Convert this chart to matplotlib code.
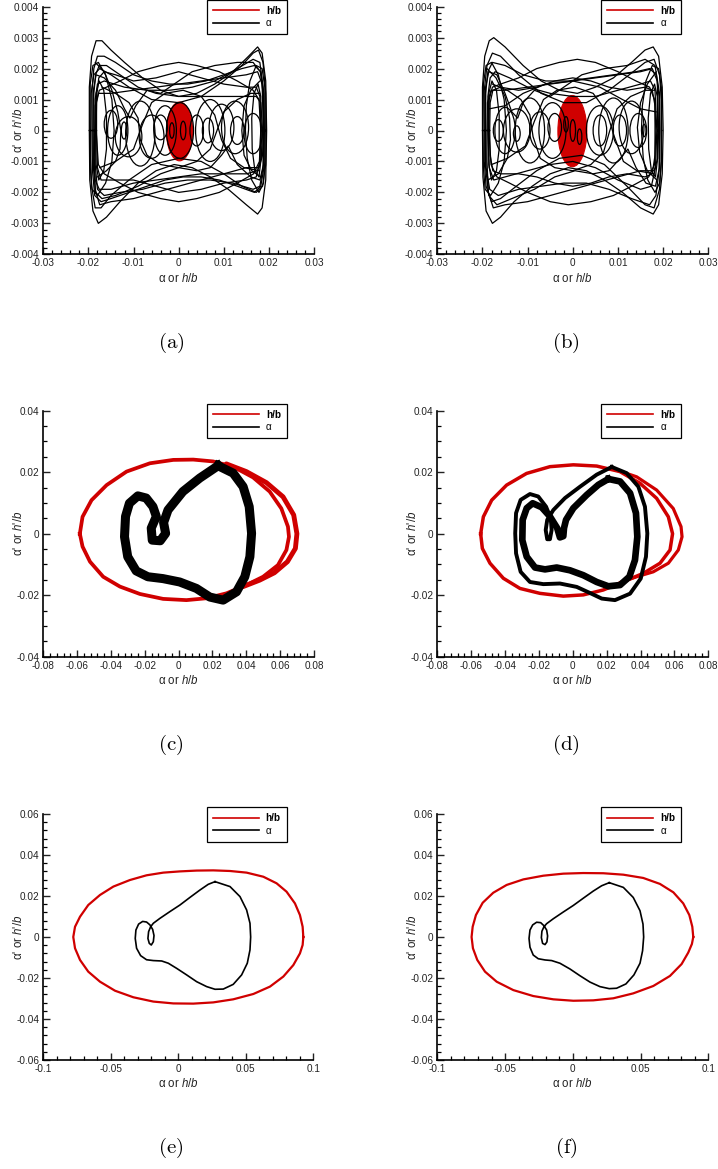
import matplotlib
matplotlib.use("Agg")
import matplotlib.pyplot as plt
from matplotlib.patches import Ellipse
from matplotlib.lines import Line2D
from matplotlib.ticker import MultipleLocator, FixedLocator, FixedFormatter

plt.rcParams['font.family'] = ['Liberation Sans', 'DejaVu Sans']
plt.rcParams['mathtext.fontset'] = 'custom'
plt.rcParams['mathtext.it'] = 'Liberation Sans:italic'
plt.rcParams['mathtext.rm'] = 'Liberation Sans'

RED = '#d00000'

# ---------------- tick values / labels ----------------
A_XTICKS = [-0.03, -0.02, -0.01, 0.0, 0.01, 0.02, 0.03]
A_XLABELS = ['-0.03', '-0.02', '-0.01', '0', '0.01', '0.02', '0.03']
A_YTICKS = [-0.004, -0.003, -0.002, -0.001, 0.0, 0.001, 0.002, 0.003, 0.004]
A_YLABELS = ['-0.004', '-0.003', '-0.002', '-0.001', '0', '0.001', '0.002', '0.003', '0.004']
C_XTICKS = [-0.08, -0.06, -0.04, -0.02, 0.0, 0.02, 0.04, 0.06, 0.08]
C_XLABELS = ['-0.08', '-0.06', '-0.04', '-0.02', '0', '0.02', '0.04', '0.06', '0.08']
C_YTICKS = [-0.04, -0.02, 0.0, 0.02, 0.04]
C_YLABELS = ['-0.04', '-0.02', '0', '0.02', '0.04']
E_XTICKS = [-0.1, -0.05, 0.0, 0.05, 0.1]
E_XLABELS = ['-0.1', '-0.05', '0', '0.05', '0.1']
E_YTICKS = [-0.06, -0.04, -0.02, 0.0, 0.02, 0.04, 0.06]
E_YLABELS = ['-0.06', '-0.04', '-0.02', '0', '0.02', '0.04', '0.06']
LEGEND_LABELS = ['h/b', 'α']
CAPTIONS = ['(a)', '(b)', '(c)', '(d)', '(e)', '(f)']

# ---------------- panel (a) ----------------
A_RED_ELLIPSE = (0.0002, -0.00003, 0.0058, 0.0019)   # centre x, centre y, width, height
A_BLACK_CYCLES = [
    [(-0.0198, 0.0000), (-0.0198, 0.0014), (-0.0193, 0.0024), (-0.0183, 0.0029), (-0.0170, 0.0029),
     (-0.0150, 0.0026), (-0.0120, 0.0022), (-0.0080, 0.0017), (-0.0040, 0.0013), (0.0000, 0.0011),
     (0.0040, 0.0012), (0.0080, 0.0015), (0.0120, 0.0019), (0.0155, 0.0024), (0.0175, 0.0027),
     (0.0185, 0.0025), (0.0193, 0.0016), (0.0195, 0.0000), (0.0193, -0.0016), (0.0185, -0.0025),
     (0.0175, -0.0027), (0.0150, -0.0024), (0.0110, -0.0019), (0.0070, -0.0015), (0.0030, -0.0012),
     (-0.0010, -0.0011), (-0.0050, -0.0013), (-0.0090, -0.0017), (-0.0130, -0.0023), (-0.0160, -0.0028),
     (-0.0178, -0.0030), (-0.0190, -0.0026), (-0.0197, -0.0016)],
    [(-0.0192, 0.0000), (-0.0192, 0.0013), (-0.0188, 0.0020), (-0.0180, 0.0024), (-0.0165, 0.0024),
     (-0.0140, 0.0022), (-0.0100, 0.0018), (-0.0060, 0.0016), (-0.0020, 0.0015), (0.0020, 0.0015),
     (0.0060, 0.0016), (0.0100, 0.0018), (0.0140, 0.0020), (0.0168, 0.0021), (0.0182, 0.0019),
     (0.0189, 0.0012), (0.0190, 0.0000), (0.0189, -0.0012), (0.0182, -0.0018), (0.0168, -0.0020),
     (0.0130, -0.0018), (0.0090, -0.0016), (0.0050, -0.0015), (0.0010, -0.0015), (-0.0030, -0.0016),
     (-0.0070, -0.0018), (-0.0110, -0.0020), (-0.0150, -0.0022), (-0.0172, -0.0023), (-0.0186, -0.0021),
     (-0.0191, -0.0013)],
    [(-0.0188, 0.0000), (-0.0188, 0.0012), (-0.0184, 0.0018), (-0.0176, 0.0021), (-0.0160, 0.0021),
     (-0.0130, 0.0018), (-0.0090, 0.0014), (-0.0050, 0.0012), (0.0000, 0.0011), (0.0050, 0.0011),
     (0.0100, 0.0011), (0.0150, 0.0011), (0.0172, 0.0011), (0.0182, 0.0009), (0.0186, 0.0000),
     (0.0183, -0.0009), (0.0175, -0.0013), (0.0150, -0.0014), (0.0100, -0.0014), (0.0050, -0.0014),
     (0.0000, -0.0015), (-0.0050, -0.0016), (-0.0100, -0.0017), (-0.0150, -0.0019), (-0.0176, -0.0019),
     (-0.0185, -0.0016), (-0.0188, -0.0009)],
    [(-0.0185, 0.0000), (-0.0185, 0.0010), (-0.0180, 0.0015), (-0.0165, 0.0016), (-0.0120, 0.0014),
     (-0.0070, 0.0013), (-0.0020, 0.0013), (0.0030, 0.0014), (0.0080, 0.0016), (0.0130, 0.0020),
     (0.0165, 0.0023), (0.0180, 0.0022), (0.0187, 0.0014), (0.0188, 0.0000), (0.0187, -0.0012),
     (0.0180, -0.0018), (0.0165, -0.0019), (0.0120, -0.0017), (0.0070, -0.0016), (0.0020, -0.0016),
     (-0.0030, -0.0017), (-0.0080, -0.0019), (-0.0130, -0.0020), (-0.0165, -0.0021), (-0.0180, -0.0019),
     (-0.0185, -0.0011)],
    [(-0.0182, 0.0000), (-0.0182, 0.0011), (-0.0177, 0.0017), (-0.0165, 0.0019), (-0.0140, 0.0018),
     (-0.0100, 0.0016), (-0.0050, 0.0017), (0.0000, 0.0019), (0.0050, 0.0017), (0.0100, 0.0015),
     (0.0150, 0.0014), (0.0172, 0.0014), (0.0180, 0.0011), (0.0182, 0.0000), (0.0180, -0.0010),
     (0.0172, -0.0015), (0.0150, -0.0016), (0.0100, -0.0017), (0.0050, -0.0019), (0.0000, -0.0020),
     (-0.0050, -0.0018), (-0.0100, -0.0016), (-0.0150, -0.0016), (-0.0172, -0.0016), (-0.0180, -0.0012)],
    [(-0.0195, 0.0000), (-0.0194, 0.0012), (-0.0188, 0.0018), (-0.0175, 0.0020), (-0.0150, 0.0018),
     (-0.0110, 0.0014), (-0.0060, 0.0010), (0.0000, 0.0009), (0.0050, 0.0011), (0.0100, 0.0016),
     (0.0140, 0.0021), (0.0165, 0.0025), (0.0177, 0.0026), (0.0187, 0.0022), (0.0193, 0.0012),
     (0.0194, 0.0000), (0.0193, -0.0011), (0.0186, -0.0018), (0.0172, -0.0020), (0.0140, -0.0018),
     (0.0100, -0.0014), (0.0050, -0.0010), (0.0000, -0.0009), (-0.0060, -0.0011), (-0.0110, -0.0016),
     (-0.0150, -0.0021), (-0.0172, -0.0025), (-0.0185, -0.0025), (-0.0193, -0.0018), (-0.0195, -0.0009)],
    [(-0.0183, 0.0000), (-0.0182, 0.0009), (-0.0176, 0.0013), (-0.0160, 0.0014), (-0.0130, 0.0016),
     (-0.0090, 0.0019), (-0.0040, 0.0021), (0.0000, 0.0022), (0.0040, 0.0021), (0.0090, 0.0019),
     (0.0130, 0.0016), (0.0165, 0.0013), (0.0178, 0.0010), (0.0182, 0.0000), (0.0179, -0.0010),
     (0.0166, -0.0014), (0.0130, -0.0017), (0.0090, -0.0020), (0.0040, -0.0022), (0.0000, -0.0023),
     (-0.0040, -0.0022), (-0.0090, -0.0020), (-0.0130, -0.0017), (-0.0165, -0.0014), (-0.0178, -0.0011)],
    [(-0.0190, 0.0000), (-0.0189, 0.0013), (-0.0183, 0.0018), (-0.0165, 0.0017), (-0.0140, 0.0013),
     (-0.0120, 0.0007), (-0.0108, 0.0004), (-0.0095, 0.0008), (-0.0070, 0.0013), (-0.0040, 0.0012),
     (-0.0010, 0.0015), (0.0030, 0.0019), (0.0080, 0.0021), (0.0130, 0.0022), (0.0165, 0.0022),
     (0.0181, 0.0019), (0.0188, 0.0011), (0.0189, 0.0000), (0.0188, -0.0011), (0.0180, -0.0016),
     (0.0160, -0.0015), (0.0130, -0.0011), (0.0110, -0.0005), (0.0095, -0.0008), (0.0070, -0.0012),
     (0.0040, -0.0013), (0.0000, -0.0012), (-0.0040, -0.0014), (-0.0090, -0.0018), (-0.0140, -0.0021),
     (-0.0170, -0.0022), (-0.0184, -0.0020), (-0.0189, -0.0012)],
    [(-0.0186, 0.0000), (-0.0185, 0.0008), (-0.0178, 0.0012), (-0.0150, 0.0012), (-0.0100, 0.0013),
     (-0.0050, 0.0014), (0.0000, 0.0015), (0.0050, 0.0016), (0.0100, 0.0017), (0.0150, 0.0018),
     (0.0175, 0.0019), (0.0185, 0.0015), (0.0188, 0.0000), (0.0186, -0.0008), (0.0178, -0.0012),
     (0.0150, -0.0012), (0.0100, -0.0014), (0.0050, -0.0016), (0.0000, -0.0018), (-0.0050, -0.0020),
     (-0.0100, -0.0022), (-0.0150, -0.0023), (-0.0175, -0.0024), (-0.0185, -0.0019), (-0.0187, -0.0009)],
    [(-0.0197, 0.0000), (-0.0196, 0.0015), (-0.0190, 0.0021), (-0.0178, 0.0022), (-0.0162, 0.0018),
     (-0.0148, 0.0010), (-0.0143, 0.0000), (-0.0148, -0.0010), (-0.0162, -0.0017), (-0.0180, -0.0021),
     (-0.0192, -0.0019), (-0.0196, -0.0012)],
    [(0.0192, 0.0000), (0.0191, 0.0014), (0.0185, 0.0020), (0.0172, 0.0021), (0.0158, 0.0016),
     (0.0150, 0.0008), (0.0148, 0.0000), (0.0152, -0.0009), (0.0162, -0.0016), (0.0178, -0.0020),
     (0.0188, -0.0017), (0.0191, -0.0010)],
    [(-0.0184, 0.0000), (-0.0183, 0.0012), (-0.0176, 0.0016), (-0.0166, 0.0013), (-0.0160, 0.0005),
     (-0.0160, -0.0006), (-0.0166, -0.0013), (-0.0177, -0.0016), (-0.0183, -0.0011)],
    [(0.0183, 0.0000), (0.0182, 0.0011), (0.0176, 0.0015), (0.0167, 0.0012), (0.0162, 0.0004),
     (0.0163, -0.0006), (0.0169, -0.0013), (0.0178, -0.0015), (0.0182, -0.0010)],
]
A_BLACK_ARCS = [
    [(-0.0185, 0.0022), (-0.0165, 0.0019), (-0.0148, 0.0013), (-0.0135, 0.0006), (-0.0128, 0.0000),
     (-0.0130, -0.0006), (-0.0140, -0.0010), (-0.0160, -0.0013), (-0.0180, -0.0015)],
    [(0.0180, 0.0016), (0.0160, 0.0013), (0.0145, 0.0008), (0.0140, 0.0000), (0.0145, -0.0008),
     (0.0162, -0.0013), (0.0182, -0.0015)],
    [(-0.0170, 0.0014), (-0.0140, 0.0012), (-0.0110, 0.0009), (-0.0090, 0.0004), (-0.0085, -0.0003),
     (-0.0070, -0.0008), (-0.0040, -0.0011), (0.0000, -0.0012), (0.0040, -0.0010), (0.0070, -0.0006),
     (0.0085, 0.0000), (0.0100, 0.0006), (0.0130, 0.0010), (0.0160, 0.0012), (0.0180, 0.0012)],
    [(-0.0175, -0.0012), (-0.0140, -0.0010), (-0.0100, -0.0006), (-0.0080, 0.0002), (-0.0060, 0.0009),
     (-0.0030, 0.0012), (0.0010, 0.0013), (0.0050, 0.0011), (0.0080, 0.0005), (0.0095, -0.0003),
     (0.0115, -0.0009), (0.0145, -0.0012), (0.0178, -0.0013)],
]
A_SMALL_LOOPS = [  # centre x, centre y, width, height
    (-0.0121, 0.0000, 0.0012, 0.00055),
    (-0.0111, -0.0002, 0.0059, 0.0013),
    (-0.0060, -0.0002, 0.0055, 0.0014),
    (-0.0040, 0.0001, 0.0030, 0.0008),
    (0.0003, 0.0000, 0.0060, 0.0018),
    (0.0040, 0.0000, 0.0030, 0.0010),
    (0.0065, 0.0000, 0.0025, 0.0008),
    (0.0095, 0.0001, 0.0055, 0.0015),
    (0.0130, 0.0000, 0.0030, 0.0009),
    (0.0165, -0.0001, 0.0040, 0.0013),
    (-0.0150, 0.0002, 0.0030, 0.0009),
    (0.0010, 0.0000, 0.0012, 0.0006),
    (-0.0015, 0.0000, 0.0010, 0.0005),
    (-0.0085, -0.0001, 0.0065, 0.0021),
    (0.0070, 0.0000, 0.0065, 0.0020),
    (0.0125, 0.0001, 0.0060, 0.0017),
    (-0.0030, 0.0000, 0.0050, 0.0016),
    (-0.0135, 0.0000, 0.0045, 0.0016),
]

# ---------------- panel (b) ----------------
B_RED_ELLIPSE = (-0.0001, -0.00002, 0.0064, 0.0023)
B_BLACK_CYCLES = [
    [(-0.0200, 0.0000), (-0.0200, 0.0014), (-0.0195, 0.0024), (-0.0185, 0.0029), (-0.0175, 0.0030),
     (-0.0150, 0.0027), (-0.0110, 0.0021), (-0.0070, 0.0016), (-0.0030, 0.0013), (0.0010, 0.0012),
     (0.0050, 0.0014), (0.0090, 0.0017), (0.0130, 0.0022), (0.0160, 0.0026), (0.0178, 0.0027),
     (0.0190, 0.0024), (0.0198, 0.0014), (0.0200, 0.0000), (0.0198, -0.0014), (0.0190, -0.0024),
     (0.0178, -0.0027), (0.0150, -0.0025), (0.0110, -0.0020), (0.0070, -0.0016), (0.0030, -0.0013),
     (-0.0010, -0.0012), (-0.0050, -0.0014), (-0.0090, -0.0018), (-0.0130, -0.0023), (-0.0160, -0.0028),
     (-0.0178, -0.0030), (-0.0192, -0.0026), (-0.0199, -0.0015)],
    [(-0.0193, 0.0000), (-0.0193, 0.0012), (-0.0188, 0.0019), (-0.0178, 0.0022), (-0.0150, 0.0021),
     (-0.0110, 0.0018), (-0.0060, 0.0016), (-0.0010, 0.0016), (0.0040, 0.0017), (0.0090, 0.0018),
     (0.0140, 0.0019), (0.0170, 0.0020), (0.0185, 0.0018), (0.0191, 0.0011), (0.0192, 0.0000),
     (0.0191, -0.0013), (0.0184, -0.0021), (0.0170, -0.0024), (0.0130, -0.0022), (0.0080, -0.0019),
     (0.0030, -0.0017), (-0.0020, -0.0017), (-0.0070, -0.0018), (-0.0120, -0.0019), (-0.0165, -0.0021),
     (-0.0184, -0.0019), (-0.0192, -0.0012)],
    [(-0.0188, 0.0000), (-0.0188, 0.0011), (-0.0183, 0.0017), (-0.0172, 0.0019), (-0.0140, 0.0017),
     (-0.0100, 0.0014), (-0.0050, 0.0012), (0.0000, 0.0011), (0.0050, 0.0011), (0.0100, 0.0013),
     (0.0150, 0.0015), (0.0172, 0.0016), (0.0182, 0.0013), (0.0186, 0.0000), (0.0183, -0.0012),
     (0.0174, -0.0018), (0.0150, -0.0019), (0.0100, -0.0016), (0.0050, -0.0012), (0.0000, -0.0010),
     (-0.0050, -0.0011), (-0.0100, -0.0013), (-0.0150, -0.0015), (-0.0175, -0.0016), (-0.0185, -0.0012)],
    [(-0.0196, 0.0000), (-0.0196, 0.0013), (-0.0190, 0.0021), (-0.0178, 0.0025), (-0.0160, 0.0024),
     (-0.0120, 0.0018), (-0.0070, 0.0012), (-0.0020, 0.0009), (0.0030, 0.0009), (0.0080, 0.0013),
     (0.0125, 0.0018), (0.0160, 0.0022), (0.0180, 0.0023), (0.0192, 0.0018), (0.0196, 0.0010),
     (0.0196, -0.0010), (0.0192, -0.0019), (0.0180, -0.0025), (0.0160, -0.0024), (0.0120, -0.0018),
     (0.0070, -0.0011), (0.0020, -0.0008), (-0.0030, -0.0009), (-0.0080, -0.0013), (-0.0125, -0.0018),
     (-0.0160, -0.0022), (-0.0180, -0.0023), (-0.0192, -0.0018), (-0.0196, -0.0010)],
    [(-0.0184, 0.0000), (-0.0183, 0.0009), (-0.0177, 0.0013), (-0.0160, 0.0014), (-0.0120, 0.0013),
     (-0.0080, 0.0014), (-0.0040, 0.0016), (0.0000, 0.0017), (0.0040, 0.0016), (0.0080, 0.0014),
     (0.0120, 0.0013), (0.0160, 0.0014), (0.0176, 0.0013), (0.0182, 0.0008), (0.0182, -0.0008),
     (0.0176, -0.0014), (0.0160, -0.0015), (0.0120, -0.0014), (0.0080, -0.0015), (0.0040, -0.0017),
     (0.0000, -0.0018), (-0.0040, -0.0017), (-0.0080, -0.0015), (-0.0120, -0.0014), (-0.0160, -0.0014),
     (-0.0177, -0.0013), (-0.0183, -0.0008)],
    [(-0.0186, 0.0000), (-0.0185, 0.0010), (-0.0178, 0.0014), (-0.0160, 0.0015), (-0.0120, 0.0017),
     (-0.0080, 0.0020), (-0.0030, 0.0022), (0.0010, 0.0023), (0.0050, 0.0022), (0.0100, 0.0019),
     (0.0140, 0.0016), (0.0170, 0.0014), (0.0181, 0.0010), (0.0184, 0.0000), (0.0181, -0.0011),
     (0.0168, -0.0015), (0.0130, -0.0018), (0.0090, -0.0021), (0.0040, -0.0023), (-0.0010, -0.0024),
     (-0.0050, -0.0023), (-0.0100, -0.0020), (-0.0140, -0.0017), (-0.0168, -0.0015), (-0.0181, -0.0011)],
    [(-0.0194, 0.0000), (-0.0193, 0.0014), (-0.0186, 0.0019), (-0.0168, 0.0018), (-0.0150, 0.0012),
     (-0.0135, 0.0006), (-0.0122, 0.0004), (-0.0110, 0.0009), (-0.0085, 0.0013), (-0.0050, 0.0011),
     (-0.0020, 0.0014), (0.0020, 0.0018), (0.0070, 0.0020), (0.0120, 0.0021), (0.0160, 0.0023),
     (0.0182, 0.0021), (0.0192, 0.0012), (0.0193, 0.0000), (0.0192, -0.0012), (0.0183, -0.0018),
     (0.0162, -0.0017), (0.0140, -0.0012), (0.0122, -0.0006), (0.0105, -0.0009), (0.0080, -0.0013),
     (0.0045, -0.0014), (0.0005, -0.0013), (-0.0040, -0.0015), (-0.0085, -0.0019), (-0.0135, -0.0022),
     (-0.0168, -0.0024), (-0.0186, -0.0021), (-0.0193, -0.0012)],
    [(-0.0190, 0.0000), (-0.0189, 0.0009), (-0.0181, 0.0013), (-0.0150, 0.0013), (-0.0100, 0.0014),
     (-0.0050, 0.0015), (0.0000, 0.0016), (0.0050, 0.0017), (0.0100, 0.0018), (0.0150, 0.0019),
     (0.0176, 0.0020), (0.0187, 0.0016), (0.0190, 0.0000), (0.0188, -0.0009), (0.0180, -0.0013),
     (0.0150, -0.0013), (0.0100, -0.0015), (0.0050, -0.0017), (0.0000, -0.0019), (-0.0050, -0.0021),
     (-0.0100, -0.0023), (-0.0150, -0.0024), (-0.0176, -0.0025), (-0.0187, -0.0020), (-0.0190, -0.0010)],
    [(-0.0199, 0.0000), (-0.0198, 0.0015), (-0.0192, 0.0021), (-0.0180, 0.0022), (-0.0165, 0.0018),
     (-0.0152, 0.0010), (-0.0147, 0.0000), (-0.0152, -0.0010), (-0.0165, -0.0017), (-0.0182, -0.0021),
     (-0.0194, -0.0019), (-0.0198, -0.0012)],
    [(0.0197, 0.0000), (0.0196, 0.0014), (0.0190, 0.0020), (0.0176, 0.0021), (0.0162, 0.0016),
     (0.0154, 0.0008), (0.0152, 0.0000), (0.0156, -0.0009), (0.0166, -0.0016), (0.0182, -0.0020),
     (0.0192, -0.0017), (0.0196, -0.0010)],
    [(-0.0187, 0.0000), (-0.0186, 0.0012), (-0.0179, 0.0016), (-0.0169, 0.0013), (-0.0163, 0.0005),
     (-0.0163, -0.0006), (-0.0169, -0.0013), (-0.0180, -0.0016), (-0.0186, -0.0011)],
    [(0.0188, 0.0000), (0.0187, 0.0011), (0.0181, 0.0015), (0.0172, 0.0012), (0.0167, 0.0004),
     (0.0168, -0.0006), (0.0174, -0.0013), (0.0183, -0.0015), (0.0187, -0.0010)],
]
B_BLACK_ARCS = [
    [(-0.0190, 0.0020), (-0.0170, 0.0017), (-0.0150, 0.0011), (-0.0140, 0.0004), (-0.0138, -0.0003),
     (-0.0145, -0.0009), (-0.0165, -0.0014), (-0.0188, -0.0016)],
    [(0.0185, 0.0019), (0.0165, 0.0015), (0.0150, 0.0009), (0.0143, 0.0001), (0.0148, -0.0007),
     (0.0165, -0.0013), (0.0186, -0.0016)],
    [(-0.0178, 0.0015), (-0.0145, 0.0013), (-0.0115, 0.0010), (-0.0095, 0.0005), (-0.0088, -0.0002),
     (-0.0072, -0.0009), (-0.0040, -0.0012), (0.0000, -0.0013), (0.0040, -0.0011), (0.0068, -0.0007),
     (0.0082, 0.0000), (0.0098, 0.0007), (0.0128, 0.0011), (0.0160, 0.0013), (0.0182, 0.0013)],
    [(-0.0180, -0.0011), (-0.0145, -0.0009), (-0.0105, -0.0005), (-0.0085, 0.0003), (-0.0065, 0.0010),
     (-0.0035, 0.0013), (0.0005, 0.0014), (0.0045, 0.0012), (0.0075, 0.0006), (0.0092, -0.0002),
     (0.0112, -0.0010), (0.0142, -0.0013), (0.0180, -0.0014)],
    [(-0.0185, 0.0007), (-0.0150, 0.0008), (-0.0110, 0.0012), (-0.0060, 0.0015), (0.0000, 0.0016),
     (0.0060, 0.0014), (0.0110, 0.0010), (0.0150, 0.0007), (0.0185, 0.0006)],
]
B_SMALL_LOOPS = [
    (-0.0165, 0.0000, 0.0022, 0.0007),
    (-0.0124, -0.0001, 0.0015, 0.0005),
    (-0.0124, 0.0000, 0.0059, 0.0014),
    (-0.0073, 0.0000, 0.0045, 0.0012),
    (-0.0040, 0.0001, 0.0030, 0.0009),
    (0.0060, 0.0000, 0.0030, 0.0010),
    (0.0060, 0.0000, 0.0060, 0.0016),
    (0.0104, 0.0000, 0.0030, 0.0010),
    (0.0145, 0.0000, 0.0037, 0.0011),
    (0.0158, 0.0000, 0.0008, 0.0004),
    (0.0000, 0.0000, 0.0012, 0.0007),
    (-0.0015, 0.0002, 0.0010, 0.0005),
    (0.0015, -0.0002, 0.0010, 0.0005),
    (-0.0095, 0.0000, 0.0065, 0.0021),
    (0.0090, 0.0000, 0.0065, 0.0021),
    (-0.0045, 0.0000, 0.0060, 0.0018),
    (0.0130, 0.0001, 0.0055, 0.0017),
    (-0.0150, 0.0000, 0.0045, 0.0015),
]

# ---------------- panel (c) ----------------
C_RED_MAIN = [(-0.0584, 0.0000), (-0.0568, 0.0055), (-0.0515, 0.0109), (-0.0426, 0.0158), (-0.0308, 0.0202),
              (-0.0170, 0.0229), (-0.0032, 0.0240), (0.0086, 0.0241), (0.0204, 0.0235), (0.0322, 0.0218),
              (0.0440, 0.0183), (0.0538, 0.0137), (0.0607, 0.0082), (0.0646, 0.0023), (0.0652, -0.0010),
              (0.0637, -0.0053), (0.0587, -0.0102), (0.0499, -0.0140), (0.0400, -0.0167), (0.0282, -0.0194),
              (0.0164, -0.0210), (0.0046, -0.0216), (-0.0092, -0.0212), (-0.0229, -0.0196), (-0.0347, -0.0172),
              (-0.0446, -0.0140), (-0.0524, -0.0091), (-0.0568, -0.0042)]
C_RED_OUTER = [(0.0282, 0.0227), (0.0400, 0.0202), (0.0519, 0.0166), (0.0617, 0.0120), (0.0680, 0.0061),
               (0.0699, 0.0000), (0.0690, -0.0048), (0.0643, -0.0091), (0.0566, -0.0127), (0.0479, -0.0151),
               (0.0381, -0.0172)]
C_BLACK = [(0.0233, 0.0221), (0.0322, 0.0197), (0.0381, 0.0153), (0.0417, 0.0088), (0.0431, 0.0001),
           (0.0421, -0.0075), (0.0391, -0.0140), (0.0342, -0.0189), (0.0263, -0.0216), (0.0184, -0.0206),
           (0.0105, -0.0178), (0.0006, -0.0157), (-0.0093, -0.0146), (-0.0182, -0.0140), (-0.0251, -0.0121),
           (-0.0301, -0.0075), (-0.0320, -0.0010), (-0.0314, 0.0056), (-0.0291, 0.0099), (-0.0241, 0.0123),
           (-0.0192, 0.0116), (-0.0152, 0.0088), (-0.0132, 0.0056), (-0.0162, 0.0018), (-0.0156, -0.0021),
           (-0.0109, -0.0023), (-0.0077, 0.0001), (-0.0089, 0.0036), (-0.0063, 0.0077), (0.0025, 0.0137),
           (0.0125, 0.0181)]

# ---------------- panel (d) ----------------
D_RED_MAIN = [(-0.0544, 0.0000), (-0.0528, 0.0055), (-0.0479, 0.0109), (-0.0391, 0.0158), (-0.0273, 0.0196),
              (-0.0135, 0.0218), (0.0003, 0.0224), (0.0141, 0.0220), (0.0278, 0.0202), (0.0397, 0.0164),
              (0.0495, 0.0115), (0.0564, 0.0055), (0.0589, 0.0000), (0.0574, -0.0053), (0.0515, -0.0096),
              (0.0416, -0.0129), (0.0298, -0.0156), (0.0180, -0.0183), (0.0062, -0.0199), (-0.0056, -0.0203),
              (-0.0194, -0.0194), (-0.0312, -0.0178), (-0.0410, -0.0145), (-0.0489, -0.0096), (-0.0534, -0.0048)]
D_RED_OUTER = [(0.0239, 0.0211), (0.0377, 0.0185), (0.0495, 0.0142), (0.0593, 0.0082), (0.0639, 0.0023),
               (0.0645, -0.0010), (0.0623, -0.0053), (0.0564, -0.0096), (0.0475, -0.0124), (0.0377, -0.0140),
               (0.0278, -0.0159)]
D_BLACK_OUTER = [(0.0230, 0.0217), (0.0318, 0.0197), (0.0387, 0.0153), (0.0426, 0.0088), (0.0440, 0.0001),
                 (0.0432, -0.0075), (0.0401, -0.0146), (0.0338, -0.0195), (0.0249, -0.0216), (0.0171, -0.0211),
                 (0.0102, -0.0193), (0.0023, -0.0173), (-0.0076, -0.0162), (-0.0174, -0.0164), (-0.0253, -0.0157),
                 (-0.0308, -0.0124), (-0.0335, -0.0064), (-0.0340, 0.0001), (-0.0335, 0.0067), (-0.0308, 0.0110),
                 (-0.0253, 0.0129), (-0.0204, 0.0121), (-0.0158, 0.0088), (-0.0130, 0.0050), (-0.0125, 0.0012),
                 (-0.0135, -0.0018), (-0.0151, -0.0018), (-0.0160, 0.0012), (-0.0151, 0.0045), (-0.0115, 0.0077),
                 (-0.0046, 0.0116), (0.0043, 0.0153), (0.0141, 0.0192)]
D_BLACK_INNER = [(0.0210, 0.0178), (0.0279, 0.0170), (0.0338, 0.0132), (0.0373, 0.0067), (0.0381, -0.0010),
                 (0.0367, -0.0086), (0.0334, -0.0140), (0.0279, -0.0167), (0.0210, -0.0171), (0.0141, -0.0157),
                 (0.0062, -0.0135), (-0.0017, -0.0119), (-0.0095, -0.0110), (-0.0164, -0.0116), (-0.0223, -0.0110),
                 (-0.0272, -0.0075), (-0.0298, -0.0021), (-0.0296, 0.0045), (-0.0272, 0.0083), (-0.0237, 0.0099),
                 (-0.0184, 0.0086), (-0.0135, 0.0056), (-0.0092, 0.0018), (-0.0076, -0.0012), (-0.0056, -0.0008),
                 (-0.0052, 0.0018), (-0.0040, 0.0045), (0.0003, 0.0083), (0.0082, 0.0126), (0.0151, 0.0159)]

# ---------------- panel (e) ----------------
E_RED = [(0.0926, 0.0000), (0.0921, 0.0050), (0.0901, 0.0107), (0.0864, 0.0164), (0.0802, 0.0221),
         (0.0728, 0.0262), (0.0630, 0.0294), (0.0506, 0.0314), (0.0383, 0.0322), (0.0259, 0.0325),
         (0.0136, 0.0324), (0.0012, 0.0320), (-0.0111, 0.0314), (-0.0235, 0.0301), (-0.0358, 0.0278),
         (-0.0481, 0.0246), (-0.0580, 0.0205), (-0.0667, 0.0156), (-0.0728, 0.0099), (-0.0765, 0.0050),
         (-0.0778, 0.0000), (-0.0765, -0.0055), (-0.0728, -0.0112), (-0.0667, -0.0169), (-0.0580, -0.0218),
         (-0.0469, -0.0262), (-0.0333, -0.0294), (-0.0185, -0.0315), (-0.0037, -0.0324), (0.0111, -0.0325),
         (0.0259, -0.0319), (0.0407, -0.0304), (0.0556, -0.0278), (0.0679, -0.0242), (0.0778, -0.0193),
         (0.0852, -0.0137), (0.0901, -0.0080), (0.0921, -0.0039)]
E_BLACK = [(0.0272, 0.0270), (0.0383, 0.0246), (0.0457, 0.0197), (0.0506, 0.0132), (0.0531, 0.0067),
           (0.0536, 0.0000), (0.0531, -0.0063), (0.0511, -0.0128), (0.0469, -0.0185), (0.0407, -0.0231),
           (0.0333, -0.0254), (0.0272, -0.0255), (0.0210, -0.0242), (0.0136, -0.0218), (0.0062, -0.0185),
           (-0.0012, -0.0153), (-0.0074, -0.0128), (-0.0123, -0.0117), (-0.0185, -0.0115), (-0.0235, -0.0111),
           (-0.0279, -0.0091), (-0.0309, -0.0055), (-0.0319, -0.0007), (-0.0314, 0.0034), (-0.0294, 0.0063),
           (-0.0264, 0.0076), (-0.0235, 0.0073), (-0.0210, 0.0059), (-0.0190, 0.0037), (-0.0180, 0.0007),
           (-0.0185, -0.0023), (-0.0200, -0.0039), (-0.0215, -0.0031), (-0.0225, -0.0007), (-0.0220, 0.0026),
           (-0.0205, 0.0050), (-0.0185, 0.0067), (-0.0136, 0.0091), (-0.0062, 0.0124), (0.0012, 0.0156),
           (0.0086, 0.0193), (0.0160, 0.0229), (0.0222, 0.0257)]

# ---------------- panel (f) ----------------
F_RED = [(0.0889, 0.0000), (0.0882, 0.0050), (0.0860, 0.0107), (0.0815, 0.0164), (0.0742, 0.0218),
         (0.0643, 0.0259), (0.0520, 0.0288), (0.0373, 0.0304), (0.0225, 0.0311), (0.0077, 0.0312),
         (-0.0070, 0.0309), (-0.0218, 0.0299), (-0.0365, 0.0281), (-0.0488, 0.0254), (-0.0587, 0.0216),
         (-0.0665, 0.0167), (-0.0715, 0.0107), (-0.0739, 0.0050), (-0.0747, 0.0000), (-0.0737, -0.0055),
         (-0.0705, -0.0112), (-0.0648, -0.0169), (-0.0562, -0.0218), (-0.0439, -0.0259), (-0.0292, -0.0288),
         (-0.0144, -0.0304), (0.0004, -0.0311), (0.0151, -0.0309), (0.0299, -0.0299), (0.0446, -0.0275),
         (0.0594, -0.0239), (0.0717, -0.0190), (0.0803, -0.0132), (0.0852, -0.0076), (0.0879, -0.0034)]
F_BLACK = [(0.0269, 0.0265), (0.0373, 0.0242), (0.0446, 0.0193), (0.0496, 0.0128), (0.0518, 0.0063),
           (0.0523, 0.0000), (0.0515, -0.0067), (0.0496, -0.0128), (0.0451, -0.0185), (0.0392, -0.0229),
           (0.0323, -0.0250), (0.0269, -0.0252), (0.0200, -0.0242), (0.0127, -0.0220), (0.0053, -0.0189),
           (-0.0021, -0.0156), (-0.0095, -0.0128), (-0.0156, -0.0115), (-0.0205, -0.0112), (-0.0255, -0.0106),
           (-0.0292, -0.0088), (-0.0316, -0.0050), (-0.0323, -0.0007), (-0.0316, 0.0034), (-0.0296, 0.0059),
           (-0.0267, 0.0072), (-0.0237, 0.0070), (-0.0213, 0.0055), (-0.0193, 0.0034), (-0.0186, 0.0005),
           (-0.0191, -0.0024), (-0.0205, -0.0037), (-0.0223, -0.0031), (-0.0232, -0.0003), (-0.0228, 0.0028),
           (-0.0213, 0.0050), (-0.0193, 0.0065), (-0.0144, 0.0089), (-0.0070, 0.0122), (0.0004, 0.0154),
           (0.0077, 0.0189), (0.0151, 0.0224), (0.0213, 0.0250)]

# ---------------- figure layout ----------------
W, H = 718, 1169
fig = plt.figure(figsize=(W / 100, H / 100), dpi=100)


def px_axes(x0, x1, ytop, ybot):
    return fig.add_axes([x0 / W, 1 - ybot / H, (x1 - x0) / W, (ybot - ytop) / H])


def closed_line(ax, pts, color, lw, z):
    xs = [p[0] for p in pts] + [pts[0][0]]
    ys = [p[1] for p in pts] + [pts[0][1]]
    ax.plot(xs, ys, color=color, lw=lw, solid_joinstyle='round', zorder=z)


def open_line(ax, pts, color, lw, z):
    ax.plot([p[0] for p in pts], [p[1] for p in pts], color=color, lw=lw,
            solid_joinstyle='round', solid_capstyle='round', zorder=z)


def style(ax, xt, xl, yt, yl, xminor, yminor):
    ax.set_xlim(xt[0], xt[-1])
    ax.set_ylim(yt[0], yt[-1])
    ax.xaxis.set_major_locator(FixedLocator(xt))
    ax.xaxis.set_major_formatter(FixedFormatter(xl))
    ax.yaxis.set_major_locator(FixedLocator(yt))
    ax.yaxis.set_major_formatter(FixedFormatter(yl))
    ax.xaxis.set_minor_locator(MultipleLocator(xminor))
    ax.yaxis.set_minor_locator(MultipleLocator(yminor))
    for s in ('top', 'right'):
        ax.spines[s].set_visible(False)
    for s in ('left', 'bottom'):
        ax.spines[s].set_linewidth(1.2)
    ax.tick_params(which='major', direction='in', length=5, width=1.0, labelsize=7.2,
                   pad=3, colors='#222222')
    ax.tick_params(which='minor', direction='in', length=2.7, width=0.9)
    ax.set_xlabel(r'α or $\mathit{h/b}$', fontsize=8.3, color='#222222')
    ax.set_ylabel(r"α' or $\mathit{h}$'/$\mathit{b}$", fontsize=8.3, color='#222222')
    ax.xaxis.set_label_coords(0.5, -0.07)
    ax.yaxis.set_label_coords(-0.068, 0.5)
    handles = [Line2D([], [], color=RED, lw=1.2), Line2D([], [], color='black', lw=1.2)]
    leg = ax.legend(handles, LEGEND_LABELS, loc='upper left', bbox_to_anchor=(0.605, 1.028),
                    frameon=True, fancybox=False, edgecolor='black', framealpha=1, fontsize=7.2,
                    handlelength=4.6, handletextpad=0.7, borderpad=0.6, labelspacing=0.25,
                    borderaxespad=0)
    leg.get_frame().set_linewidth(0.9)
    leg.get_texts()[0].set_fontweight('bold')
    leg.set_zorder(10)


axes = {
    'a': px_axes(43.3, 314.0, 6.7, 254.3),
    'b': px_axes(437.3, 708.3, 6.7, 254.3),
    'c': px_axes(43.3, 314.0, 410.7, 656.7),
    'd': px_axes(437.3, 708.3, 410.7, 656.7),
    'e': px_axes(43.3, 313.3, 814.0, 1060.0),
    'f': px_axes(437.3, 708.3, 814.0, 1060.0),
}

# (a) and (b)
for key, red_e, cycles, arcs, loops in (('a', A_RED_ELLIPSE, A_BLACK_CYCLES, A_BLACK_ARCS, A_SMALL_LOOPS),
                                        ('b', B_RED_ELLIPSE, B_BLACK_CYCLES, B_BLACK_ARCS, B_SMALL_LOOPS)):
    ax = axes[key]
    ax.add_patch(Ellipse((red_e[0], red_e[1]), red_e[2], red_e[3], facecolor=RED, edgecolor=RED,
                         lw=0.8, zorder=1))
    for cyc in cycles:
        closed_line(ax, cyc, 'black', 0.9, 3)
    for arc in arcs:
        open_line(ax, arc, 'black', 0.9, 3)
    for (cx, cy, w, h) in loops:
        ax.add_patch(Ellipse((cx, cy), w, h, fill=False, edgecolor='black', lw=0.9, zorder=3))
    style(ax, A_XTICKS, A_XLABELS, A_YTICKS, A_YLABELS, 0.002, 0.0002)

# (c)
ax = axes['c']
closed_line(ax, C_RED_MAIN, RED, 2.7, 1)
open_line(ax, C_RED_OUTER, RED, 3.5, 1)
closed_line(ax, C_BLACK, 'black', 6.5, 3)
style(ax, C_XTICKS, C_XLABELS, C_YTICKS, C_YLABELS, 0.004, 0.005)

# (d)
ax = axes['d']
closed_line(ax, D_RED_MAIN, RED, 2.5, 1)
open_line(ax, D_RED_OUTER, RED, 2.3, 1)
closed_line(ax, D_BLACK_OUTER, 'black', 2.8, 3)
closed_line(ax, D_BLACK_INNER, 'black', 4.8, 3)
style(ax, C_XTICKS, C_XLABELS, C_YTICKS, C_YLABELS, 0.004, 0.005)

# (e), (f)
for key, red, black in (('e', E_RED, E_BLACK), ('f', F_RED, F_BLACK)):
    ax = axes[key]
    closed_line(ax, red, RED, 1.6, 1)
    closed_line(ax, black, 'black', 1.2, 3)
    style(ax, E_XTICKS, E_XLABELS, E_YTICKS, E_YLABELS, 0.01, 0.004)

# captions
CAP_POS = [(171, 343), (566, 343), (171, 745), (566, 745), (171, 1148), (566, 1148)]
for (cx, cy), cap in zip(CAP_POS, CAPTIONS):
    fig.text(cx / W, 1 - cy / H, r'$\mathrm{' + cap + '}$', math_fontfamily='cm', fontsize=15,
             ha='center', va='center')

fig.savefig('out.png', dpi=100)
